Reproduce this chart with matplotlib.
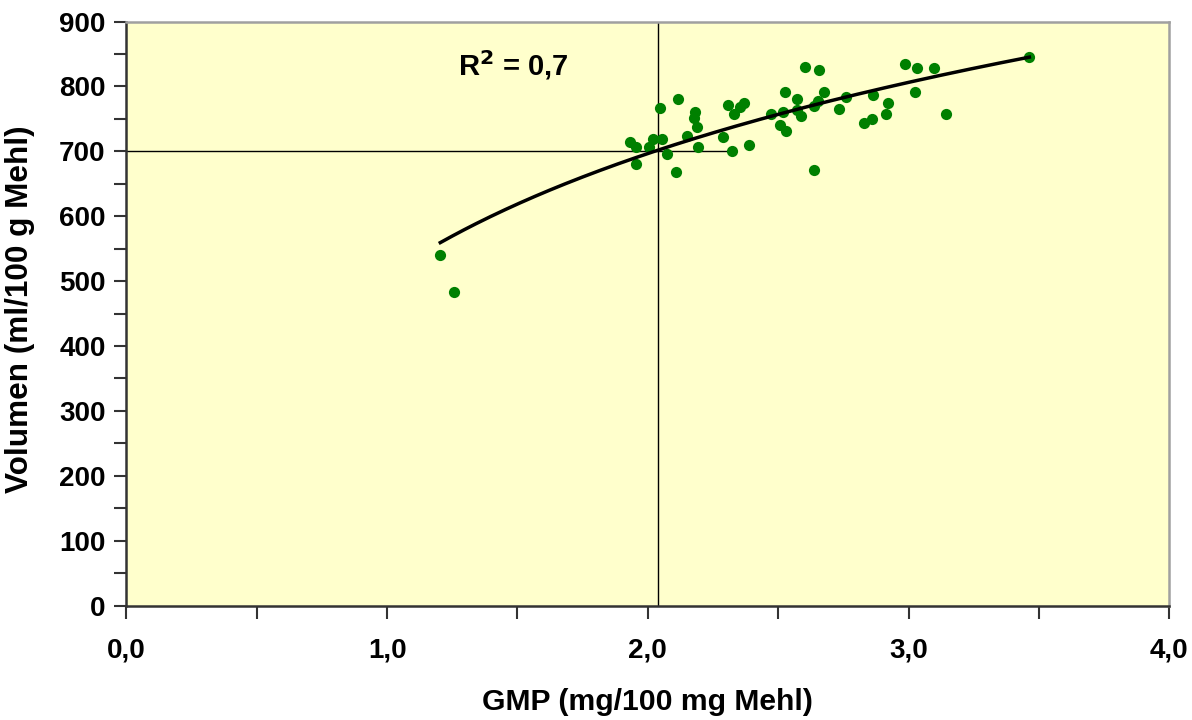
import numpy as np
import matplotlib
matplotlib.use("Agg")
import matplotlib.pyplot as plt
from matplotlib.ticker import MultipleLocator, FuncFormatter

plt.rcParams['font.family'] = ['Liberation Sans', 'DejaVu Sans']
plt.rcParams['font.weight'] = 'bold'

# GMP (mg/100 mg Mehl) vs. Volumen (ml/100 g Mehl)
gmp = [1.932, 1.954, 1.955, 2.005, 2.019, 2.054, 2.047, 2.073, 2.109, 2.115,
       2.150, 2.179, 2.178, 2.189, 2.194, 2.290, 2.307, 2.322, 2.331, 2.354,
       2.367, 2.389, 2.472, 2.507, 2.527, 2.518, 2.529, 2.572, 2.572, 2.589,
       2.601, 2.657, 2.639, 2.652, 2.677, 2.734, 2.761, 2.830, 2.859, 2.863,
       2.914, 2.921, 2.639, 2.987, 3.034, 3.099, 3.026, 3.144, 3.463, 1.204,
       1.257]
volumen = [714, 706, 681, 707, 719, 719, 767, 696, 668, 781,
           723, 760, 752, 738, 707, 722, 771, 701, 758, 769,
           775, 710, 758, 741, 792, 760, 732, 781, 764, 754,
           830, 825, 770, 778, 791, 765, 784, 744, 750, 787,
           757, 775, 672, 835, 829, 829, 791, 757, 846, 540,
           483]

# logarithmic trend line (Excel style)
trend_b, trend_a = np.polyfit(np.log(gmp), volumen, 1)
r2_label = "R$^{\\mathbf{2}}$ = 0,7"

# reference lines
ref_x = 2.04
ref_y = 700
ref_x_end = 2.33

fig = plt.figure(figsize=(11.92, 7.2), dpi=100)
ax = fig.add_axes([0.106, 0.159, 0.875, 0.811])
ax.set_facecolor('#FFFFCC')

ax.plot([ref_x, ref_x], [0, 900], color='black', lw=1.0, zorder=2)
ax.plot([0, ref_x_end], [ref_y, ref_y], color='black', lw=1.0, zorder=2)

ax.scatter(gmp, volumen, s=65, color='#008000', zorder=3, linewidths=0)

xs = np.linspace(min(gmp), max(gmp), 200)
ax.plot(xs, trend_a + trend_b * np.log(xs), color='black', lw=2.5, zorder=4)

ax.text(1.27, 833, r2_label, fontsize=21, fontweight='bold', va='center', ha='left')

ax.set_xlim(0, 4.0)
ax.set_ylim(0, 900)
ax.xaxis.set_major_locator(MultipleLocator(1.0))
ax.xaxis.set_minor_locator(MultipleLocator(0.5))
ax.yaxis.set_major_locator(MultipleLocator(100))
ax.yaxis.set_minor_locator(MultipleLocator(50))
ax.xaxis.set_major_formatter(FuncFormatter(lambda v, p: f"{v:.1f}".replace('.', ',')))
ax.yaxis.set_major_formatter(FuncFormatter(lambda v, p: f"{v:.0f}"))

ax.tick_params(which='both', direction='out', length=9, width=1.5, color='#333333')
ax.tick_params(axis='both', which='major', labelsize=20, pad=6)
ax.tick_params(axis='x', which='major', pad=14)

for side in ['left', 'bottom']:
    ax.spines[side].set_color('#333333')
    ax.spines[side].set_linewidth(1.8)
for side in ['top', 'right']:
    ax.spines[side].set_color('#a0a0a0')
    ax.spines[side].set_linewidth(1.8)

ax.set_xlabel("GMP (mg/100 mg Mehl)", fontsize=21.7, fontweight='bold', labelpad=18)
ax.set_ylabel("Volumen (ml/100 g Mehl)", fontsize=22.7, fontweight='bold')
ax.yaxis.set_label_coords(-0.0875, 0.507)

fig.savefig("out.png", dpi=100)
